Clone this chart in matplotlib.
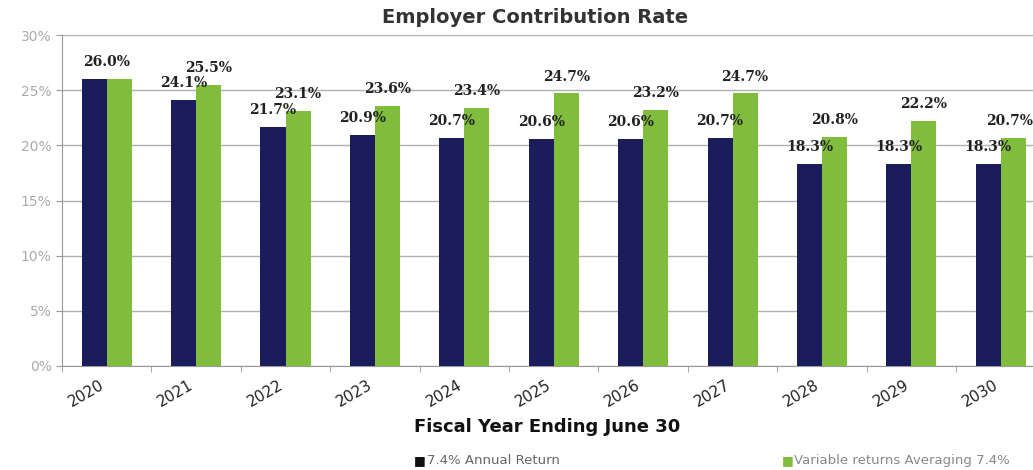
import matplotlib.pyplot as plt
import matplotlib.transforms as mtransforms
import numpy as np

# Employer contribution rate projections
years = ["2020", "2021", "2022", "2023", "2024", "2025", "2026", "2027", "2028", "2029", "2030"]
annual_return = [26.0, 24.1, 21.7, 20.9, 20.7, 20.6, 20.6, 20.7, 18.3, 18.3, 18.3]
variable_returns = [26.0, 25.5, 23.1, 23.6, 23.4, 24.7, 23.2, 24.7, 20.8, 22.2, 20.7]

NAVY = "#1b1c5c"
GREEN = "#80bd3c"
GRAY = "#999999"

fig = plt.figure(figsize=(10.33, 4.70), dpi=100)
ax = fig.add_axes([0.060, 0.2213, 0.940, 0.7042])

x = np.arange(len(years))
w = 0.28
ax.bar(x - w / 2, annual_return, w, color=NAVY, zorder=3)
ax.bar(x + w / 2, variable_returns, w, color=GREEN, zorder=3)

# value labels above the bars
lab = dict(ha="center", va="bottom", fontsize=10, fontweight="bold",
           family="DejaVu Serif", color="#222222", zorder=4)
for i, (a, v) in enumerate(zip(annual_return, variable_returns)):
    if a == v:
        ax.text(x[i], a + 0.9, f"{a:.1f}%", **lab)
        continue
    ax.text(x[i] - w / 2, a + 0.9, f"{a:.1f}%", **lab)
    ax.text(x[i] + w / 2 - (0.04 if i == len(years) - 1 else 0), v + 0.9, f"{v:.1f}%", **lab)

ax.set_ylim(0, 30)
ax.set_yticks(range(0, 31, 5))
ax.set_yticklabels([f"{t}%" for t in range(0, 31, 5)], color="#aaaaaa", fontsize=10)
ax.yaxis.grid(True, color="#b0b0b0", linewidth=1.0, zorder=0)
ax.set_xlim(-0.5, 10.36)
ax.set_xticks(x)
ax.set_xticklabels(years, rotation=30, fontsize=11, color="#222222", ha="right")
shift = mtransforms.ScaledTranslation(8 / 100, 0, fig.dpi_scale_trans)
for t in ax.get_xticklabels():
    t.set_transform(t.get_transform() + shift)
ax.set_xticks(np.arange(-0.5, 10.5, 1), minor=True)
ax.tick_params(axis="x", which="major", length=0, pad=8)
ax.tick_params(axis="x", which="minor", length=4, color=GRAY)
ax.tick_params(axis="y", length=4, color=GRAY)

for s in ["top", "right"]:
    ax.spines[s].set_visible(False)
for s in ["left", "bottom"]:
    ax.spines[s].set_color(GRAY)

ax.set_xlabel("Fiscal Year Ending June 30", fontsize=13, fontweight="bold",
              color="#111111", labelpad=6)
fig.text(0.518, 0.962, "Employer Contribution Rate", ha="center", va="center",
         fontsize=14, fontweight="bold", color="#333333")

# legend entries
fig.text(0.401, 0.021, "\u25a0", color="#111111", fontsize=9, va="center")
fig.text(0.413, 0.021, "7.4% Annual Return", color="#666666", fontsize=9.5, va="center")
fig.text(0.757, 0.021, "\u25a0", color=GREEN, fontsize=9, va="center")
fig.text(0.769, 0.021, "Variable returns Averaging 7.4%", color="#888888", fontsize=9.5, va="center")

fig.savefig("out.png", dpi=100)
